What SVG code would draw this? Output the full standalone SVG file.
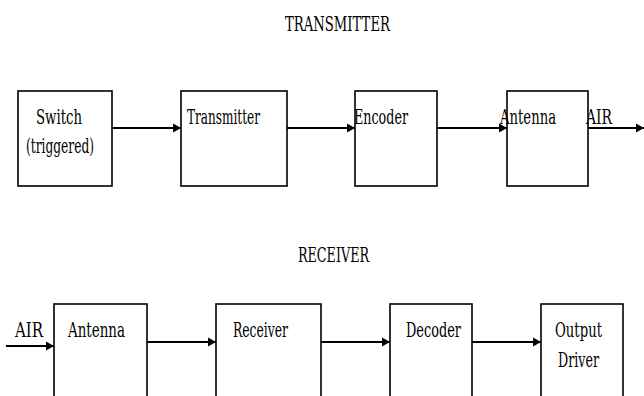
<svg xmlns="http://www.w3.org/2000/svg" width="644" height="396" viewBox="0 0 644 396">
<style>
.box{fill:#fff;stroke:#000;stroke-width:1.6}
.ln{fill:none;stroke:#000;stroke-width:1.8;marker-end:url(#ah)}
text{font-family:"DejaVu Serif","Liberation Serif",serif;font-size:20px;fill:#000}
</style>
<defs>
<marker id="ah" markerUnits="userSpaceOnUse" markerWidth="9" markerHeight="10" refX="8" refY="5" orient="auto">
<path d="M0,0.5 L8,5 L0,9.5 z" fill="#000"/>
</marker>
</defs>
<rect width="644" height="396" fill="#fff"/>
<text x="285" y="31" textLength="105" lengthAdjust="spacingAndGlyphs">TRANSMITTER</text>
<text x="298" y="262" textLength="71" lengthAdjust="spacingAndGlyphs">RECEIVER</text>
<g id="switch">
<rect class="box" x="18" y="91" width="94" height="95"/>
<text x="36" y="124" textLength="46" lengthAdjust="spacingAndGlyphs">Switch</text>
<text x="26" y="153" textLength="68" lengthAdjust="spacingAndGlyphs">(triggered)</text>
</g>
<g id="transmitter">
<rect class="box" x="181" y="91" width="106" height="95"/>
<text x="187" y="124" textLength="73" lengthAdjust="spacingAndGlyphs">Transmitter</text>
</g>
<g id="encoder">
<rect class="box" x="355" y="91" width="82" height="95"/>
<text x="354" y="124" textLength="54" lengthAdjust="spacingAndGlyphs">Encoder</text>
</g>
<g id="antenna-tx">
<rect class="box" x="507" y="91" width="81" height="95"/>
<text x="500" y="124" textLength="56" lengthAdjust="spacingAndGlyphs">Antenna</text>
<text x="586" y="124" textLength="26" lengthAdjust="spacingAndGlyphs">AIR</text>
</g>
<g id="antenna-rx">
<rect class="box" x="54" y="304" width="93" height="100"/>
<text x="68" y="337" textLength="57" lengthAdjust="spacingAndGlyphs">Antenna</text>
<text x="15" y="337" textLength="28" lengthAdjust="spacingAndGlyphs">AIR</text>
</g>
<g id="receiver">
<rect class="box" x="216" y="304" width="105" height="100"/>
<text x="233" y="337" textLength="55" lengthAdjust="spacingAndGlyphs">Receiver</text>
</g>
<g id="decoder">
<rect class="box" x="390" y="304" width="82" height="100"/>
<text x="406" y="337" textLength="55" lengthAdjust="spacingAndGlyphs">Decoder</text>
</g>
<g id="output-driver">
<rect class="box" x="541" y="304" width="82" height="100"/>
<text x="555" y="337" textLength="47" lengthAdjust="spacingAndGlyphs">Output</text>
<text x="558" y="367" textLength="41" lengthAdjust="spacingAndGlyphs">Driver</text>
</g>
<g id="connectors">
<path class="ln" d="M112,128 H181"/>
<path class="ln" d="M287,128 H355"/>
<path class="ln" d="M437,128 H507"/>
<path class="ln" d="M588,128 H644"/>
<path class="ln" d="M6,346 H54"/>
<path class="ln" d="M147,342 H216"/>
<path class="ln" d="M321,342 H390"/>
<path class="ln" d="M472,342 H541"/>
</g>
</svg>
